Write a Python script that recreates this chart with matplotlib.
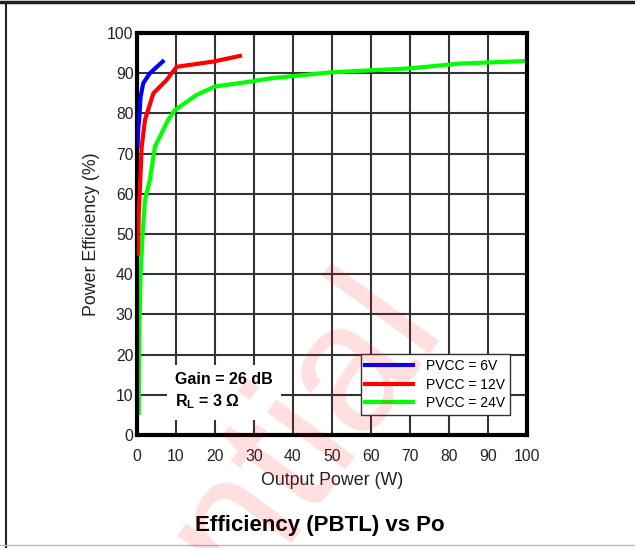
import matplotlib
matplotlib.use('Agg')
import matplotlib.pyplot as plt
from matplotlib.lines import Line2D

plt.rcParams['font.family'] = ['Liberation Sans', 'DejaVu Sans']

# efficiency curves
pvcc6_po = [0.15, 0.3, 0.6, 0.9, 1.6, 3.3, 6.6]
pvcc6_eff = [72, 76, 79, 84, 87.5, 90, 92.9]

pvcc12_po = [0.2, 0.45, 0.77, 1.2, 2.05, 4.2, 7.6, 8.9, 10.2, 19.6, 26.4]
pvcc12_eff = [45, 55, 61.8, 71.7, 78.4, 85, 88.3, 90, 91.6, 92.9, 94.3]

pvcc24_po = [0.45, 0.5, 0.6, 0.94, 1.45, 2.05, 3.3, 4.6, 8.0, 9.7, 15.3, 20,
             29, 34.1, 49.5, 70, 82.8, 99]
pvcc24_eff = [5.5, 13.7, 26, 40.3, 50.2, 58.5, 63.4, 71.7, 78.4, 80.8, 84.6, 86.7,
              87.9, 88.7, 90.2, 91.2, 92.4, 93]

x_ticks = list(range(0, 101, 10))
y_ticks = list(range(0, 101, 10))

fig = plt.figure(figsize=(6.35, 5.48), dpi=100)
ax = fig.add_axes([137/635, 1-435/548, 390/635, 402/548])

ax.plot(pvcc6_po, pvcc6_eff, color='#0000ff', lw=3, label='PVCC = 6V', zorder=4)
ax.plot(pvcc12_po, pvcc12_eff, color='#ff0000', lw=3, label='PVCC = 12V', zorder=3)
ax.plot(pvcc24_po, pvcc24_eff, color='#00ff00', lw=3, label='PVCC = 24V', zorder=2)

ax.set_xlim(0, 100)
ax.set_ylim(0, 100)
ax.set_xticks(x_ticks)
ax.set_yticks(y_ticks)
ax.tick_params(length=0, labelsize=11.3, colors='#222222')
ax.tick_params(axis='x', pad=10)
ax.tick_params(axis='y', pad=2.5)
ax.grid(True, color='#333333', lw=1.5)
ax.set_axisbelow(True)
for s in ax.spines.values():
    s.set_linewidth(3)
    s.set_color('black')

ax.set_xlabel('Output Power (W)', fontsize=12.8, color='#222222', labelpad=6)
ax.set_ylabel('Power Efficiency (%)', fontsize=12.8, color='#222222', labelpad=5)

ax.text(0.097, 0.108, 'Gain = 26 dB\nR$_\\mathregular{L}$ = 3 \u03a9', transform=ax.transAxes,
        fontsize=11.5, fontweight='bold', va='center', ha='left', linespacing=1.4,
        bbox=dict(facecolor='white', edgecolor='none', pad=6), zorder=5)

leg = ax.legend(loc='lower right', bbox_to_anchor=(0.956, 0.05), fontsize=10,
                fancybox=False, framealpha=1, edgecolor='#333333',
                handlelength=3.4, handletextpad=0.95, borderaxespad=0,
                labelspacing=0.32, borderpad=0.35)
leg.get_frame().set_linewidth(1.0)
leg.set_zorder(6)

fig.text(320/635, 1-525/548, 'Efficiency (PBTL) vs Po', fontsize=16,
         fontweight='bold', ha='center', va='center')

# watermark
fig.text(443/635, 1-322/548, 'Confidential', fontsize=132, color='red', alpha=0.13,
         rotation=54, rotation_mode='anchor', ha='right', va='baseline')

# page frame lines
fig.add_artist(Line2D([0, 1], [1-2/548, 1-2/548], color='#222222', lw=2.5))
fig.add_artist(Line2D([6/635, 6/635], [0, 1-2/548], color='#222222', lw=1.5))
fig.add_artist(Line2D([0, 1], [3/548, 3/548], color='#bbbbbb', lw=1))

fig.savefig('out.png', dpi=100)
